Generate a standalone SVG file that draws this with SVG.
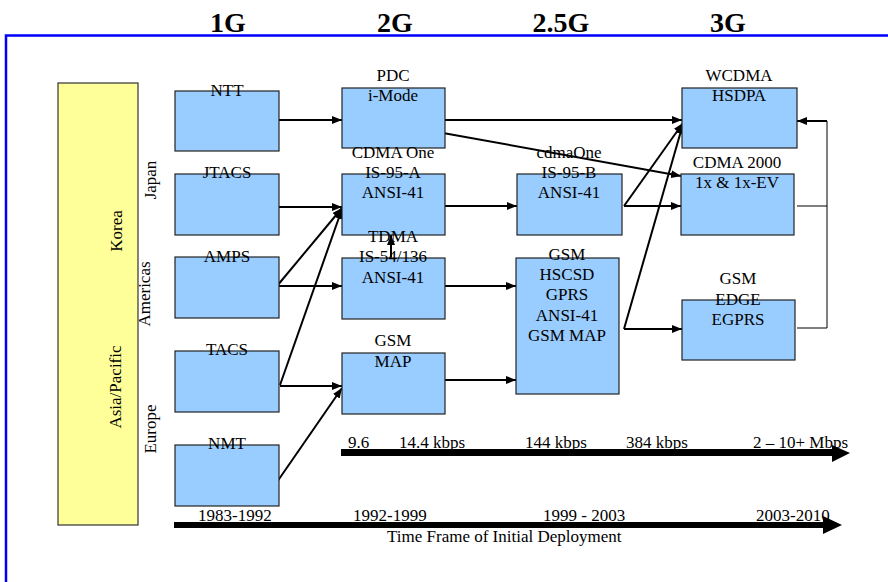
<svg xmlns="http://www.w3.org/2000/svg" width="888" height="582" viewBox="0 0 888 582">
<style>
text{font-family:"Liberation Serif","Times New Roman",serif;font-size:17px;fill:#000}
.c{text-anchor:middle}
.t{font-size:28px;font-weight:bold;text-anchor:middle}
.box{fill:#99ccff;stroke:#222;stroke-width:1.2}
.reg{fill:#ffff99;stroke:#333;stroke-width:1.2}
.ln{fill:none;stroke:#000;stroke-width:2}
.arr{fill:none;stroke:#000;stroke-width:2;marker-end:url(#ah)}
.thin{fill:none;stroke:#000;stroke-width:1}
</style>
<defs>
<marker id="ah" viewBox="0 0 10 8" refX="10" refY="4" markerWidth="10" markerHeight="8" markerUnits="userSpaceOnUse" orient="auto">
<path d="M0,0 L10,4 L0,8 z" fill="#000"/>
</marker>
</defs>
<rect width="888" height="582" fill="#fff"/>
<g id="frame">
<path d="M6,582 V35.5 H888" fill="none" stroke="#0000ff" stroke-width="2.5"/>
</g>
<g id="titles">
<text class="t" x="228" y="32">1G</text>
<text class="t" x="395" y="32">2G</text>
<text class="t" x="561" y="32">2.5G</text>
<text class="t" x="728" y="32">3G</text>
</g>
<g id="regions">
<rect class="reg" x="58" y="83" width="80" height="442"/>
<text class="c" transform="translate(122,231) rotate(-90)">Korea</text>
<text class="c" transform="translate(121,387) rotate(-90)">Asia/Pacific</text>
<text class="c" transform="translate(156,180) rotate(-90)">Japan</text>
<text class="c" transform="translate(150,294) rotate(-90)">Americas</text>
<text class="c" transform="translate(156,429) rotate(-90)">Europe</text>
</g>
<g id="connectors">
<line class="arr" x1="277" y1="120" x2="342" y2="120"/>
<line class="arr" x1="443" y1="120" x2="682" y2="120"/>
<line class="arr" x1="443" y1="133" x2="681" y2="176"/>
<line class="arr" x1="277" y1="207" x2="342" y2="207"/>
<line class="arr" x1="277" y1="286" x2="342" y2="208"/>
<line class="arr" x1="277" y1="286" x2="342" y2="286"/>
<line class="arr" x1="280" y1="385" x2="342" y2="209"/>
<line class="arr" x1="280" y1="386" x2="342" y2="386"/>
<line class="arr" x1="277" y1="482" x2="342" y2="388"/>
<line class="arr" x1="391" y1="258" x2="391" y2="235"/>
<line class="arr" x1="443" y1="206" x2="517" y2="206"/>
<line class="arr" x1="443" y1="286" x2="516" y2="286"/>
<line class="arr" x1="443" y1="380" x2="516" y2="380"/>
<line class="arr" x1="624" y1="206" x2="681" y2="206"/>
<line class="arr" x1="624" y1="206" x2="683" y2="123"/>
<line class="arr" x1="624" y1="329" x2="683" y2="124"/>
<line class="arr" x1="624" y1="329" x2="682" y2="329"/>
<path class="thin" d="M797,206 H827 M797,328 H827 M827,121 V328"/>
<line class="arr" x1="827" y1="121" x2="797" y2="121"/>
</g>
<g id="n-ntt"><rect class="box" x="175" y="91" width="104" height="60"/><text class="c" x="227" y="96">NTT</text></g>
<g id="n-jtacs"><rect class="box" x="175" y="174" width="104" height="61"/><text class="c" x="227" y="178">JTACS</text></g>
<g id="n-amps"><rect class="box" x="175" y="257" width="104" height="61"/><text class="c" x="227" y="262">AMPS</text></g>
<g id="n-tacs"><rect class="box" x="175" y="351" width="104" height="61"/><text class="c" x="227" y="355">TACS</text></g>
<g id="n-nmt"><rect class="box" x="175" y="445" width="104" height="61"/><text class="c" x="227" y="449">NMT</text></g>
<g id="n-pdc"><rect class="box" x="342" y="88" width="103" height="60"/><text class="c" x="393" y="81">PDC</text><text class="c" x="393" y="101">i-Mode</text></g>
<g id="n-cdmaone"><rect class="box" x="342" y="174" width="103" height="61"/><text class="c" x="393" y="158">CDMA One</text><text class="c" x="393" y="178">IS-95-A</text><text class="c" x="393" y="198">ANSI-41</text></g>
<g id="n-tdma"><rect class="box" x="342" y="258" width="103" height="61"/><text class="c" x="393" y="242">TDMA</text><text class="c" x="393" y="262">IS-54/136</text><text class="c" x="393" y="283">ANSI-41</text></g>
<g id="n-gsm2"><rect class="box" x="342" y="353" width="103" height="61"/><text class="c" x="393" y="346">GSM</text><text class="c" x="393" y="367">MAP</text></g>
<g id="n-cdmaone-b"><rect class="box" x="517" y="174" width="105" height="61"/><text class="c" x="569" y="158">cdmaOne</text><text class="c" x="569" y="178">IS-95-B</text><text class="c" x="569" y="198">ANSI-41</text></g>
<g id="n-gsm25"><rect class="box" x="516" y="258" width="103" height="136"/><text class="c" x="567" y="260">GSM</text><text class="c" x="567" y="280">HSCSD</text><text class="c" x="567" y="300">GPRS</text><text class="c" x="567" y="321">ANSI-41</text><text class="c" x="567" y="341">GSM MAP</text></g>
<g id="n-wcdma"><rect class="box" x="682" y="88" width="115" height="60"/><text class="c" x="739" y="81">WCDMA</text><text class="c" x="739" y="101">HSDPA</text></g>
<g id="n-cdma2000"><rect class="box" x="681" y="174" width="113" height="61"/><text class="c" x="737" y="168">CDMA 2000</text><text class="c" x="737" y="188">1x &amp; 1x-EV</text></g>
<g id="n-edge"><rect class="box" x="682" y="300" width="113" height="60"/><text class="c" x="738" y="284">GSM</text><text class="c" x="738" y="305">EDGE</text><text class="c" x="738" y="325">EGPRS</text></g>
<g id="speed">
<line x1="341" y1="452.5" x2="833" y2="452.5" stroke="#000" stroke-width="7"/>
<polygon points="832,445 850,453 832,462" fill="#000"/>
<text x="348" y="448">9.6</text>
<text x="399" y="448">14.4 kbps</text>
<text x="525" y="448">144 kbps</text>
<text x="626" y="448">384 kbps</text>
<text x="753" y="448">2 – 10+ Mbps</text>
</g>
<g id="timeline">
<line x1="174" y1="525" x2="824" y2="525" stroke="#000" stroke-width="6"/>
<polygon points="823,516 842,525 823,534" fill="#000"/>
<text x="198" y="521">1983-1992</text>
<text x="353" y="521">1992-1999</text>
<text x="543" y="521">1999 - 2003</text>
<text x="756" y="521">2003-2010</text>
<text x="387" y="542">Time Frame of Initial Deployment</text>
</g>
</svg>
